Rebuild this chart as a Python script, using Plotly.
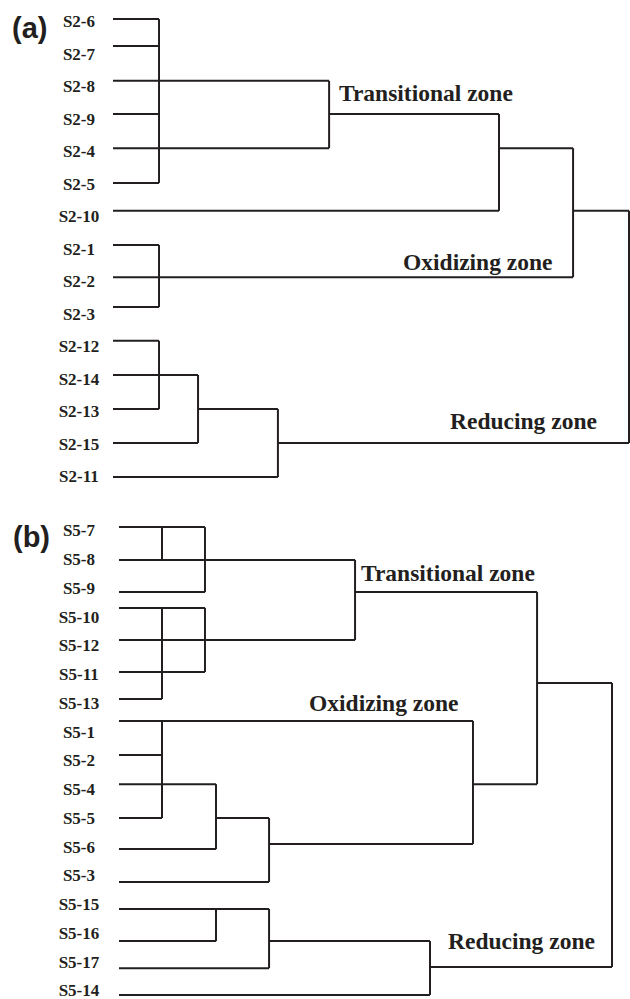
import math
import plotly.graph_objects as go

NAN = float("nan")
INK = "#231f20"

# ---------------- Panel (a) ----------------
a_labels = ["S2-6", "S2-7", "S2-8", "S2-9", "S2-4", "S2-5", "S2-10", "S2-1",
            "S2-2", "S2-3", "S2-12", "S2-14", "S2-13", "S2-15", "S2-11"]
# row position of each leaf line, and rescaled distance where it joins
a_leaf_row = [-0.12, 0.71, 1.78, 2.80, 3.85, 4.92, 5.78, 6.83,
              7.82, 8.74, 9.78, 10.83, 11.88, 12.92, 13.97]
a_leaf_end = [2.23, 2.23, 10.47, 2.23, 10.47, 2.23, 18.70, 2.23,
              22.29, 2.23, 2.23, 4.12, 2.23, 4.12, 7.99]
# joins: distance, vertical span (top/bottom row), outgoing row and end distance
a_join_dist = [2.23, 2.23, 2.23, 4.12, 7.99, 10.47, 18.70, 22.29, 25.0]
a_join_top = [-0.12, 6.83, 9.78, 10.83, 11.88, 1.78, 2.80, 3.85, 5.78]
a_join_bot = [4.92, 8.74, 11.88, 12.92, 13.97, 3.85, 5.78, 7.82, 12.92]
a_join_out_row = [NAN, NAN, NAN, 11.88, 12.92, 2.80, 3.85, 5.78, NAN]
a_join_out_end = [NAN, NAN, NAN, 7.99, 25.0, 18.70, 22.29, 25.0, NAN]

# ---------------- Panel (b) ----------------
b_labels = ["S5-7", "S5-8", "S5-9", "S5-10", "S5-12", "S5-11", "S5-13", "S5-1",
            "S5-2", "S5-4", "S5-5", "S5-6", "S5-3", "S5-15", "S5-16", "S5-17", "S5-14"]
b_leaf_row = [-0.17, 0.97, 2.09, 2.64, 3.76, 4.87, 5.81, 6.57,
              7.76, 8.77, 9.95, 11.03, 12.17, 13.11, 14.23, 15.17, 16.10]
b_leaf_end = [4.36, 11.97, 4.36, 4.36, 11.97, 4.36, 2.18, 17.95,
              2.18, 4.92, 2.18, 4.92, 7.61, 7.61, 4.92, 7.61, 15.77]
b_join_dist = [2.18, 4.36, 2.18, 4.36, 11.97, 2.18, 4.92, 7.61, 17.95,
               21.20, 4.92, 7.61, 15.77, 25.0]
b_join_top = [-0.17, -0.17, 2.64, 2.64, 0.97, 6.57, 8.77, 9.95, 6.57,
              2.09, 13.11, 13.11, 14.23, 5.25]
b_join_bot = [0.97, 2.09, 5.81, 4.87, 3.76, 9.95, 11.03, 12.17, 10.85,
              8.77, 14.23, 15.17, 16.10, 15.13]
b_join_out_row = [NAN, NAN, NAN, NAN, 2.09, NAN, 9.95, 10.85, 8.77,
                  5.25, NAN, 14.23, 15.13, NAN]
b_join_out_end = [NAN, NAN, NAN, NAN, 21.20, NAN, 7.61, 17.95, 21.20,
                  25.0, NAN, 15.77, 25.0, NAN]

zone_names = ["Transitional zone", "Oxidizing zone", "Reducing zone"]


def segments(leaf_row, leaf_end, jd, jt, jb, jor, joe):
    xs, ys = [], []
    for r, e in zip(leaf_row, leaf_end):
        xs += [0, e, None]
        ys += [r, r, None]
    for d, t, b, orow, oend in zip(jd, jt, jb, jor, joe):
        xs += [d, d, None]
        ys += [t, b, None]
        if not math.isnan(orow):
            xs += [d, oend, None]
            ys += [orow, orow, None]
    return xs, ys


ax, ay = segments(a_leaf_row, a_leaf_end, a_join_dist, a_join_top, a_join_bot,
                  a_join_out_row, a_join_out_end)
bx, by = segments(b_leaf_row, b_leaf_end, b_join_dist, b_join_top, b_join_bot,
                  b_join_out_row, b_join_out_end)

fig = go.Figure()
line = dict(color=INK, width=2)
fig.add_trace(go.Scatter(x=ax, y=ay, mode="lines", line=line, xaxis="x", yaxis="y",
                         hoverinfo="skip", showlegend=False))
fig.add_trace(go.Scatter(x=bx, y=by, mode="lines", line=line, xaxis="x2", yaxis="y2",
                         hoverinfo="skip", showlegend=False))

leaf_font = dict(family="Liberation Serif", size=17, color=INK, weight="bold")
fig.add_trace(go.Scatter(x=[-1.65] * len(a_labels), y=list(range(len(a_labels))),
                         text=a_labels, mode="text", textposition="middle center",
                         textfont=leaf_font, xaxis="x", yaxis="y",
                         hoverinfo="skip", showlegend=False, cliponaxis=False))
fig.add_trace(go.Scatter(x=[-2.03] * len(b_labels), y=list(range(len(b_labels))),
                         text=b_labels, mode="text", textposition="middle center",
                         textfont=leaf_font, xaxis="x2", yaxis="y2",
                         hoverinfo="skip", showlegend=False, cliponaxis=False))

zone_font = dict(family="Liberation Serif", size=23.5, color=INK, weight="bold")
a_zone_pos = [(10.85, 2.15), (13.95, 7.35), (16.23, 12.25)]
b_zone_pos = [(12.17, 1.43), (9.53, 5.95), (16.58, 14.23)]
annotations = []
for name, (x, y) in zip(zone_names, a_zone_pos):
    annotations.append(dict(text=name, x=x, y=y, xref="x", yref="y", showarrow=False,
                            xanchor="left", yanchor="middle", font=zone_font))
for name, (x, y) in zip(zone_names, b_zone_pos):
    annotations.append(dict(text=name, x=x, y=y, xref="x2", yref="y2", showarrow=False,
                            xanchor="left", yanchor="middle", font=zone_font))
panel_font = dict(family="Liberation Sans", size=29, color=INK, weight="bold")
annotations.append(dict(text="(a)", x=29.5 / 630, y=1 - 28 / 999, xref="paper", yref="paper",
                        showarrow=False, xanchor="center", yanchor="middle", font=panel_font))
annotations.append(dict(text="(b)", x=31 / 630, y=1 - 537 / 999, xref="paper", yref="paper",
                        showarrow=False, xanchor="center", yanchor="middle", font=panel_font))

hidden = dict(visible=False, showgrid=False, zeroline=False, fixedrange=True)
split = 1 - 500 / 999
fig.update_layout(
    width=630, height=999,
    margin=dict(l=0, r=0, t=0, b=0),
    paper_bgcolor="white", plot_bgcolor="white",
    xaxis=dict(domain=[0, 1], anchor="y", range=[-5.475, 25.048], **hidden),
    yaxis=dict(domain=[split, 1], anchor="x", range=[14.677, -0.708], **hidden),
    xaxis2=dict(domain=[0, 1], anchor="y2", range=[-6.034, 25.913], **hidden),
    yaxis2=dict(domain=[0, split], anchor="x2", range=[16.243, -1.113], **hidden),
    annotations=annotations,
)

fig.write_html("out.html")
